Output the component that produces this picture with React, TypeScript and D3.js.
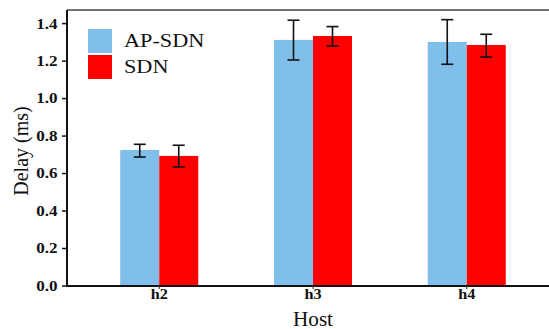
import React from "react";
import * as d3 from "d3";

const hosts = ["h2", "h3", "h4"];
const seriesNames = ["AP-SDN", "SDN"];
const colors = ["#7fbfea", "#ff0000"];
const apsdn = [0.726, 1.313, 1.302];
const apsdnLo = [0.688, 1.206, 1.183];
const apsdnHi = [0.756, 1.418, 1.421];
const sdn = [0.694, 1.334, 1.286];
const sdnLo = [0.635, 1.281, 1.222];
const sdnHi = [0.751, 1.384, 1.343];
const yTicks = [0, 0.2, 0.4, 0.6, 0.8, 1.0, 1.2, 1.4];

export default function App() {
  const W = 549, H = 329;
  const left = 67, top = 10, bottom = 286;
  const x = d3.scalePoint<string>().domain(hosts).range([left, 559]).padding(0.6);
  const y = d3.scaleLinear().domain([0, 1.4]).range([bottom, 23.6]);
  const bw = 39;
  const series = [
    { vals: apsdn, lo: apsdnLo, hi: apsdnHi, off: -bw },
    { vals: sdn, lo: sdnLo, hi: sdnHi, off: 0 },
  ];
  const font = "Times, 'Times New Roman', 'Liberation Serif', 'DejaVu Serif', serif";
  return (
    <svg width={W} height={H} style={{ position: "absolute", left: 0, top: 0, fontFamily: font }}>
      <rect width={W} height={H} fill="#fff" />
      <line x1={left} x2={W} y1={top} y2={top} stroke="#444" strokeWidth={1.5} />
      {series.map((s, si) =>
        hosts.map((h, i) => (
          <rect key={`${si}-${i}`} x={(x(h) as number) + s.off} y={y(s.vals[i])}
            width={bw} height={bottom - y(s.vals[i])} fill={colors[si]} />
        ))
      )}
      {series.map((s, si) =>
        hosts.map((h, i) => {
          const cx = (x(h) as number) + s.off + bw / 2;
          return (
            <g key={`e${si}-${i}`} stroke="#111" strokeWidth={1.6}>
              <line x1={cx} x2={cx} y1={y(s.lo[i])} y2={y(s.hi[i])} />
              <line x1={cx - 6} x2={cx + 6} y1={y(s.lo[i])} y2={y(s.lo[i])} />
              <line x1={cx - 6} x2={cx + 6} y1={y(s.hi[i])} y2={y(s.hi[i])} />
            </g>
          );
        })
      )}
      <line x1={left} x2={left} y1={top} y2={bottom + 1} stroke="#111" strokeWidth={2} />
      <line x1={left - 1} x2={W} y1={bottom} y2={bottom} stroke="#111" strokeWidth={2} />
      {yTicks.map((t) => (
        <g key={t}>
          <line x1={left - 5} x2={left} y1={y(t)} y2={y(t)} stroke="#111" strokeWidth={1.5} />
          <text transform={`translate(${left - 9.5}, ${y(t)}) scale(1.22, 1)`} dy="0.35em" textAnchor="end"
            fontWeight="bold" fontSize={14} fill="#111">{t.toFixed(1)}</text>
        </g>
      ))}
      {hosts.map((h) => (
        <g key={h}>
          <line x1={x(h)} x2={x(h)} y1={bottom} y2={bottom + 3} stroke="#444" strokeWidth={1.2} />
          <text transform={`translate(${x(h)}, ${bottom + 12.5}) scale(1.08, 1)`} textAnchor="middle"
            fontWeight="bold" fontSize={15} fill="#111">{h}</text>
        </g>
      ))}
      <text transform={`translate(313, 325.5) scale(1.06, 1)`} textAnchor="middle" fontSize={20} fill="#111">Host</text>
      <text transform={`translate(28, 151) rotate(-90)`} textAnchor="middle"
        fontSize={20} fill="#111">Delay (ms)</text>
      {seriesNames.map((n, i) => (
        <g key={n}>
          <rect x={88} y={29 + i * 26} width={24} height={24} fill={colors[i]} />
          <text transform={`translate(124, ${47.3 + i * 26}) scale(1.17, 1)`} fontSize={19} fill="#111">{n}</text>
        </g>
      ))}
    </svg>
  );
}
